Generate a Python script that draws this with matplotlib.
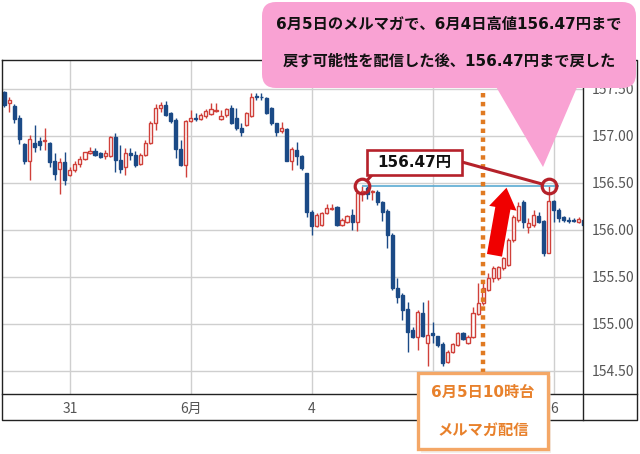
import matplotlib
matplotlib.use('Agg')
import matplotlib.pyplot as plt
from matplotlib.patches import FancyBboxPatch, Rectangle, Polygon, FancyArrowPatch, ConnectionPatch

# ---------------- data (hourly USD/JPY candles, May 30 11:00 -> Jun 6 06:00) ----------------
opens = [157.47, 157.35, 157.32, 157.19, 156.91, 156.73, 156.93, 156.95, 156.95, 156.93,
         156.73, 156.65, 156.72, 156.59, 156.64, 156.70, 156.76, 156.82, 156.84, 156.82,
         156.79, 156.79, 156.99, 156.74, 156.67, 156.82, 156.80, 156.70, 156.80, 156.93,
         157.14, 157.30, 157.33, 157.24, 157.17, 156.86, 156.69, 157.16, 157.19, 157.18,
         157.21, 157.23, 157.27, 157.18, 157.22, 157.30, 157.19, 157.09, 157.12, 157.21,
         157.43, 157.42, 157.40, 157.30, 157.14, 157.05, 157.07, 156.73, 156.85, 156.79,
         156.61, 156.19, 156.04, 156.05, 156.18, 156.22, 156.24, 156.05, 156.09, 156.16,
         156.09, 156.39, 156.45, 156.40, 156.40, 156.30, 156.20, 155.95, 155.38, 155.31,
         155.16, 154.94, 154.86, 155.12, 154.80, 154.90, 154.87, 154.79, 154.60, 154.70,
         154.78, 154.90, 154.80, 154.86, 155.11, 155.22, 155.36, 155.49, 155.49, 155.60,
         155.63, 155.89, 156.11, 156.30, 156.03, 156.05, 156.15, 156.10, 155.76, 156.31,
         156.21, 156.14, 156.11, 156.11, 156.09, 156.11]
highs = [157.48, 157.42, 157.34, 157.22, 156.93, 157.01, 157.12, 156.99, 157.09, 156.94,
         156.82, 156.77, 156.83, 156.67, 156.73, 156.79, 156.83, 156.88, 156.87, 156.83,
         156.85, 157.00, 157.03, 156.90, 156.87, 156.87, 156.84, 156.82, 156.96, 157.16,
         157.34, 157.36, 157.37, 157.26, 157.19, 156.96, 157.17, 157.28, 157.24, 157.24,
         157.29, 157.35, 157.35, 157.28, 157.30, 157.33, 157.30, 157.14, 157.26, 157.46,
         157.46, 157.46, 157.42, 157.31, 157.14, 157.15, 157.08, 156.88, 156.94, 156.80,
         156.61, 156.21, 156.18, 156.19, 156.28, 156.28, 156.25, 156.13, 156.16, 156.22,
         156.43, 156.47, 156.47, 156.43, 156.43, 156.31, 156.22, 155.97, 155.49, 155.33,
         155.23, 154.97, 155.15, 155.23, 155.26, 155.02, 154.87, 154.81, 154.72, 154.80,
         154.91, 154.91, 154.88, 155.18, 155.44, 155.44, 155.54, 155.62, 155.62, 155.71,
         155.92, 156.16, 156.30, 156.32, 156.13, 156.21, 156.19, 156.11, 156.47, 156.32,
         156.23, 156.15, 156.14, 156.13, 156.14, 156.12]
lows = [157.31, 157.26, 157.14, 156.91, 156.70, 156.53, 156.83, 156.85, 156.85, 156.67,
        156.53, 156.38, 156.48, 156.57, 156.62, 156.67, 156.74, 156.81, 156.79, 156.77,
        156.76, 156.78, 156.62, 156.61, 156.59, 156.74, 156.67, 156.69, 156.79, 156.91,
        157.06, 157.26, 157.21, 157.14, 156.77, 156.68, 156.56, 157.15, 157.16, 157.17,
        157.19, 157.22, 157.25, 157.17, 157.20, 157.13, 157.06, 157.00, 157.11, 157.20,
        157.38, 157.38, 157.23, 157.12, 157.00, 157.03, 156.73, 156.64, 156.69, 156.64,
        156.14, 155.95, 156.03, 156.04, 156.17, 156.21, 156.04, 156.04, 156.07, 156.00,
        155.99, 156.31, 156.33, 156.32, 156.27, 156.10, 155.81, 155.36, 155.22, 155.04,
        154.70, 154.85, 154.72, 154.86, 154.55, 154.80, 154.75, 154.55, 154.59, 154.69,
        154.77, 154.83, 154.79, 154.85, 155.10, 155.20, 155.35, 155.45, 155.47, 155.57,
        155.62, 155.87, 156.09, 156.02, 155.97, 156.03, 156.07, 155.72, 155.76, 156.09,
        156.09, 156.09, 156.07, 156.08, 156.07, 156.04]
closes = [157.33, 157.38, 157.18, 156.97, 156.73, 156.97, 156.88, 156.90, 156.96, 156.72,
          156.60, 156.72, 156.53, 156.64, 156.70, 156.76, 156.83, 156.84, 156.80, 156.78,
          156.82, 156.99, 156.74, 156.65, 156.82, 156.80, 156.69, 156.80, 156.93, 157.14,
          157.30, 157.33, 157.22, 157.16, 156.86, 156.69, 157.16, 157.19, 157.18, 157.22,
          157.27, 157.29, 157.28, 157.21, 157.29, 157.14, 157.09, 157.04, 157.24, 157.41,
          157.42, 157.41, 157.24, 157.14, 157.04, 157.09, 156.73, 156.86, 156.79, 156.66,
          156.19, 156.04, 156.16, 156.18, 156.23, 156.23, 156.05, 156.11, 156.15, 156.09,
          156.39, 156.41, 156.38, 156.41, 156.30, 156.19, 155.95, 155.38, 155.29, 155.15,
          154.91, 154.86, 155.13, 154.87, 154.88, 154.88, 154.78, 154.59, 154.70, 154.79,
          154.90, 154.84, 154.86, 155.12, 155.22, 155.38, 155.49, 155.60, 155.61, 155.70,
          155.89, 156.14, 156.25, 156.08, 156.07, 156.16, 156.09, 155.76, 156.31, 156.21,
          156.13, 156.11, 156.10, 156.10, 156.12, 156.05]

day_tick_idx = [13, 37, 61, 85, 109]          # candle index of 00:00 of each day
day_tick_labels = ['31', '6月', '4', '5', '6']
y_ticks = [154.5, 155.0, 155.5, 156.0, 156.5, 157.0, 157.5]

high_level = 156.47
high_idx_left = 71      # 6/4 high
high_idx_right = 108    # later return to 156.47
send_idx = 95           # 6/5 10:00 newsletter

title_lines = ['6月5日のメルマガで、6月4日高値156.47円まで',
               '戻す可能性を配信した後、156.47円まで戻した']
send_lines = ['6月5日10時台', 'メルマガ配信']
price_label = '156.47円'

# ---------------- style ----------------
RED = '#D0403A'
BLUE = '#1B4A86'
CJK = ['DejaVu Sans', 'Noto Sans CJK JP']
plt.rcParams['font.family'] = ['DejaVu Sans', 'Noto Sans CJK JP']

W, H = 640, 454
fig = plt.figure(figsize=(W / 100, H / 100), dpi=100)
fig.patch.set_facecolor('white')

# main plot area (pixel box: x 3..583, y 60..394)
L, R, T, B = 3, 583, 60, 394
ax = fig.add_axes([L / W, 1 - B / H, (R - L) / W, (B - T) / H])
ax.set_xlim(-0.26, 114.82)
ax.set_ylim(154.255, 157.8085)
for s in ax.spines.values():
    s.set_visible(False)

ax.set_yticks(y_ticks)
ax.set_yticklabels([f'{v:.2f}' for v in y_ticks])
ax.yaxis.tick_right()
ax.set_xticks(day_tick_idx)
ax.set_xticklabels(day_tick_labels)
ax.tick_params(axis='y', length=0, pad=6.5, labelsize=10, labelcolor='#555555')
ax.tick_params(axis='x', length=0, pad=5.5, labelsize=10, labelcolor='#555555')
for lab in ax.get_yticklabels() + ax.get_xticklabels():
    lab.set_family(['Liberation Sans Narrow', 'Noto Sans CJK JP'])
ax.grid(True, color='#cfcfcf', lw=1)
ax.set_axisbelow(True)

# candles
idx = list(range(len(opens)))
for i in idx:
    o, h, l, c = opens[i], highs[i], lows[i], closes[i]
    up = c >= o
    col = RED if up else BLUE
    ax.vlines(i, l, h, color=col, lw=1.0, zorder=2)
    lo, hi = min(o, c), max(o, c)
    height = max(hi - lo, 0.008)
    ax.bar(i, height, bottom=lo, width=0.62, color='white' if up else BLUE,
           edgecolor=col, linewidth=1.0, zorder=3)

# 156.47 level line and circles
ax.hlines(high_level, high_idx_left, high_idx_right + 2, color='#5AAAD2', lw=1.2, zorder=4)
ax.plot([high_idx_left, high_idx_right], [high_level, high_level], 'o', ms=10.5,
        mfc='none', mec='#B5212A', mew=2.3, zorder=6, clip_on=False)

# orange dotted line at newsletter time
ax.vlines(send_idx, 154.48, 157.47, color='#E07A22', lw=3.2, linestyles=(0, (1, 1)), zorder=5)

# ---------------- overlay (pixel coordinates) ----------------
ov = fig.add_axes([0, 0, 1, 1], zorder=10)
ov.set_xlim(0, W)
ov.set_ylim(H, 0)
ov.axis('off')
ov.patch.set_alpha(0)

# chart frame (below the callouts)
FR_R, FR_B = 637, 420
frame_kw = dict(color='#222222', lw=1.0, zorder=0.5)
ov.plot([2, FR_R, FR_R, 2, 2], [60, 60, FR_B, FR_B, 60], **frame_kw)
ov.plot([R, R], [60, FR_B], **frame_kw)
ov.plot([2, FR_R], [B, B], **frame_kw)

# pink callout
PINK = '#F9A2D3'
ov.add_patch(Polygon([(495, 85), (578, 85), (543, 167)], closed=True, fc=PINK, ec='none', zorder=3))
ov.add_patch(FancyBboxPatch((262, 2), 374, 86, boxstyle='round,pad=0,rounding_size=14',
                            fc=PINK, ec='none', zorder=3))
ov.text(449, 24, title_lines[0], ha='center', va='center', fontsize=11,
        fontweight='bold', family=CJK, color='#111111', zorder=4)
ov.text(449, 61, title_lines[1], ha='center', va='center', fontsize=11,
        fontweight='bold', family=CJK, color='#111111', zorder=4)

# price label box
ov.add_patch(Rectangle((367, 150), 95, 25, fc='white', ec='#B5212A', lw=1.9, zorder=3))
ov.text(414.5, 162.5, price_label, ha='center', va='center', fontsize=11,
        fontweight='bold', family=CJK, color='#111111', zorder=4)
con1 = ConnectionPatch(xyA=(372, 175), coordsA=ov.transData,
                       xyB=(high_idx_left, high_level), coordsB=ax.transData,
                       color='#B5212A', lw=2.2, shrinkB=5)
fig.add_artist(con1)
con2 = ConnectionPatch(xyA=(462, 162), coordsA=ov.transData,
                       xyB=(high_idx_right, high_level), coordsB=ax.transData,
                       color='#B5212A', lw=2.2, shrinkB=5)
fig.add_artist(con2)

# red arrow
arr = FancyArrowPatch((494, 258), (507, 185),
                      arrowstyle='simple,tail_width=0.55,head_width=1.0,head_length=0.75',
                      mutation_scale=20, fc='#F00000', ec='none', zorder=3)
ov.add_patch(arr)

# orange send box
ov.add_patch(Rectangle((421, 376), 130, 77, fc='#E8E0D8', ec='none', alpha=0.5, zorder=3))
ov.add_patch(Rectangle((418, 373), 130, 76, fc='white', ec='#F4A766', lw=2.4, zorder=3))
ov.text(483, 392, send_lines[0], ha='center', va='center', fontsize=11,
        fontweight='bold', family=CJK, color='#E8812C', zorder=4)
ov.text(483, 430, send_lines[1], ha='center', va='center', fontsize=11,
        fontweight='bold', family=CJK, color='#E8812C', zorder=4)

fig.savefig('out.png', dpi=100)
